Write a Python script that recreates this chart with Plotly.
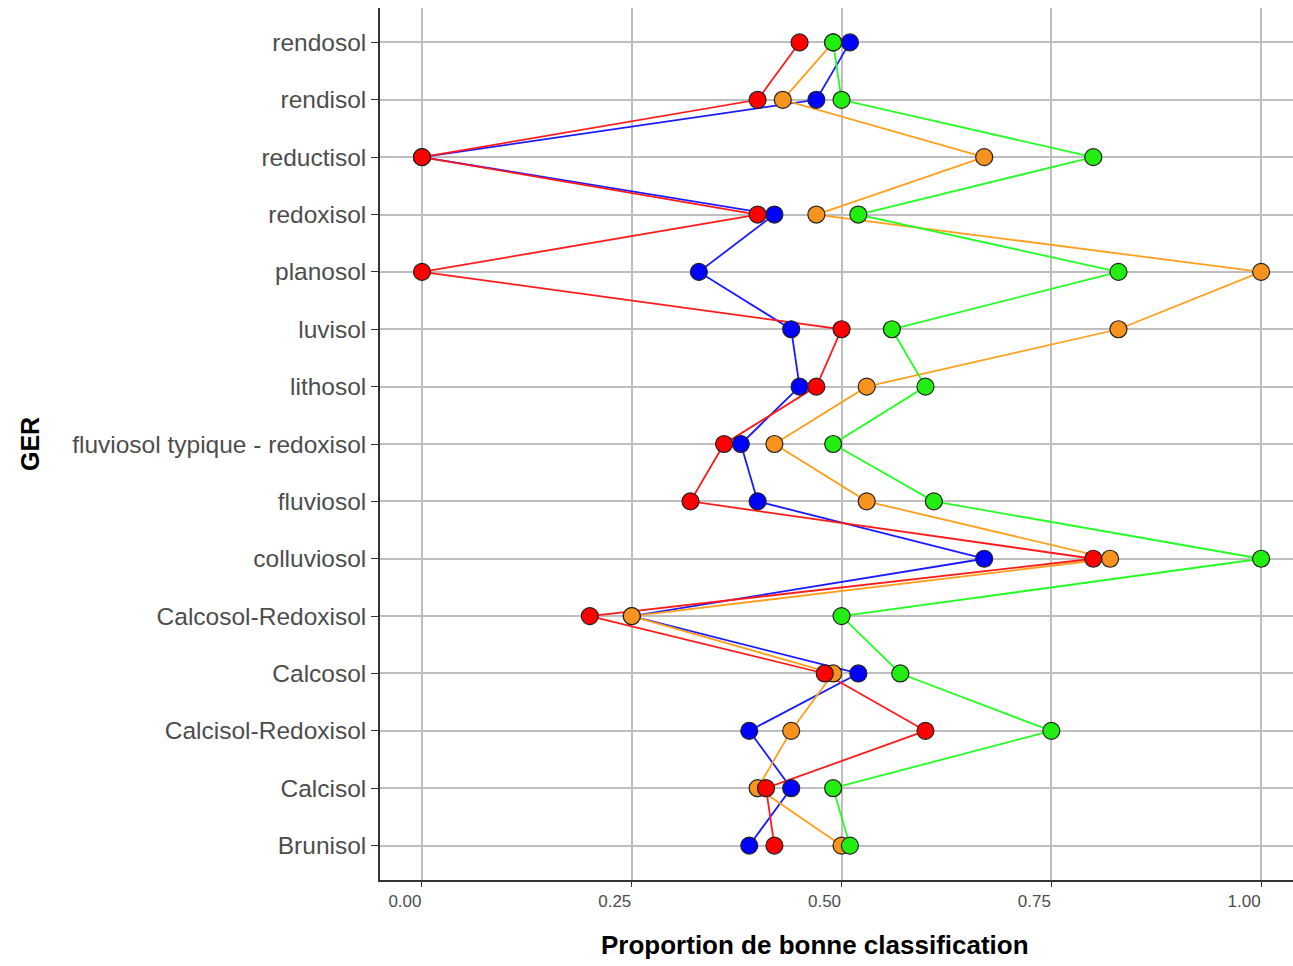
import plotly.graph_objects as go

categories = ["Brunisol", "Calcisol", "Calcisol-Redoxisol", "Calcosol", "Calcosol-Redoxisol",
              "colluviosol", "fluviosol", "fluviosol typique - redoxisol", "lithosol", "luvisol",
              "planosol", "redoxisol", "reductisol", "rendisol", "rendosol"]

red    = [0.42, 0.41, 0.60, 0.48, 0.20, 0.80, 0.32, 0.36, 0.47, 0.50, 0.00, 0.40, 0.00, 0.40, 0.45]
blue   = [0.39, 0.44, 0.39, 0.52, 0.25, 0.67, 0.40, 0.38, 0.45, 0.44, 0.33, 0.42, 0.00, 0.47, 0.51]
orange = [0.50, 0.40, 0.44, 0.49, 0.25, 0.82, 0.53, 0.42, 0.53, 0.83, 1.00, 0.47, 0.67, 0.43, 0.49]
green  = [0.51, 0.49, 0.75, 0.57, 0.50, 1.00, 0.61, 0.49, 0.60, 0.56, 0.83, 0.52, 0.80, 0.50, 0.49]

x_ticks = [0, 0.25, 0.5, 0.75, 1.0]
x_ticklabels = ["0.00", "0.25", "0.50", "0.75", "1.00"]

series = [("blue", blue, "#1A1AFF", "#0000FF"),
          ("orange", orange, "#FF9F1C", "#F7931E"),
          ("green", green, "#22FF22", "#22EE11"),
          ("red", red, "#FF1A1A", "#FF0000")]

fig = go.Figure()
# lines first (like ggplot geom_line), then points
for name, vals, lc, mc in series:
    fig.add_trace(go.Scatter(x=vals, y=categories, mode="lines",
                             line=dict(color=lc, width=1.8), showlegend=False, hoverinfo="skip"))
for name, vals, lc, mc in series:
    fig.add_trace(go.Scatter(x=vals, y=categories, mode="markers",
                             marker=dict(color=mc, size=17, line=dict(color="#222222", width=1.2)),
                             showlegend=False, name=name))

fig.update_layout(
    width=1293, height=966,
    margin=dict(l=380, r=0, t=8, b=86, autoexpand=False),
    plot_bgcolor="white", paper_bgcolor="white",
    font=dict(family="Liberation Sans, Arial, sans-serif", color="#4D4D4D"),
    xaxis=dict(range=[-0.05, 1.038], tickvals=x_ticks, ticktext=x_ticklabels,
               showgrid=True, gridcolor="#BEBEBE", gridwidth=1.6,
               showline=True, linecolor="#333333", linewidth=1.6,
               ticks="outside", ticklen=5, tickcolor="#333333",
               tickfont=dict(size=17, color="#4D4D4D", family="Liberation Sans Narrow, Liberation Sans, Arial"),
               ticklabelshift=-17, zeroline=False, automargin=False),
    yaxis=dict(type="category", categoryorder="array", categoryarray=categories,
               range=[-0.6, 14.6],
               showgrid=True, gridcolor="#BEBEBE", gridwidth=1.6,
               showline=True, linecolor="#333333", linewidth=1.6,
               ticks="outside", ticklen=7, tickcolor="#333333",
               tickfont=dict(size=24.5, color="#4D4D4D"), zeroline=False, automargin=False),
    annotations=[
        dict(text="<b>Proportion de bonne classification</b>", xref="paper", yref="paper",
             x=0.4765, y=0, yshift=-65, xanchor="center", yanchor="middle", showarrow=False,
             font=dict(size=26, color="black", family="Liberation Sans Narrow, Liberation Sans, Arial")),
        dict(text="<b>GER</b>", xref="paper", yref="paper", x=0, xshift=-350, y=0.5,
             xanchor="center", yanchor="middle", textangle=-90, showarrow=False,
             font=dict(size=25, color="black", family="Liberation Sans, Arial")),
    ],
)

fig.write_html("out.html", config={"displayModeBar": False},
               post_script="document.body.style.margin='0px';document.body.style.overflow='hidden';")
